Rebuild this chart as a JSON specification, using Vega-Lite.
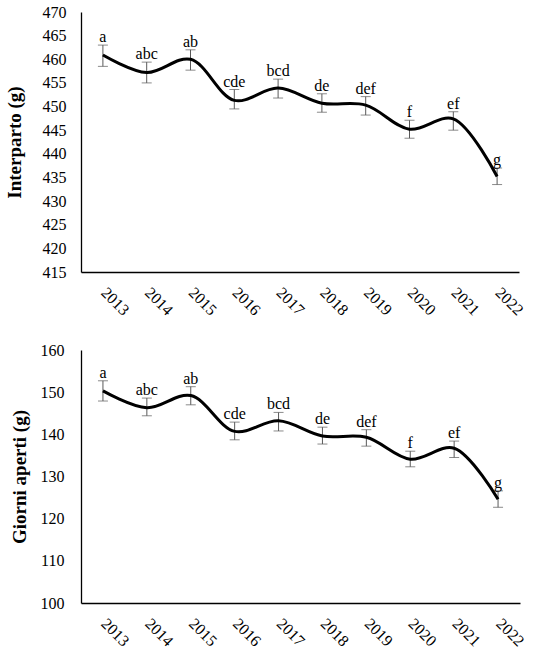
{
  "$schema": "https://vega.github.io/schema/vega-lite/v6.json",
  "background": "white",
  "padding": {"left": 5, "top": 4, "right": 5, "bottom": 0},
  "spacing": 24,
  "config": {
    "view": {"stroke": null},
    "font": "Liberation Serif",
    "axis": {
      "labelFont": "Liberation Serif",
      "titleFont": "Liberation Serif",
      "labelFontSize": 16,
      "labelColor": "black",
      "titleColor": "black",
      "domainColor": "black",
      "domainWidth": 1.3,
      "ticks": false,
      "grid": false,
      "labelOverlap": false
    }
  },
  "datasets": {
    "interparto": [
      {"anno": "2013", "media": 460.9, "lo": 458.5, "hi": 463.0, "lettera": "a"},
      {"anno": "2014", "media": 457.2, "lo": 455.0, "hi": 459.4, "lettera": "abc"},
      {"anno": "2015", "media": 460.0, "lo": 457.7, "hi": 462.0, "lettera": "ab"},
      {"anno": "2016", "media": 451.3, "lo": 449.5, "hi": 453.6, "lettera": "cde"},
      {"anno": "2017", "media": 453.9, "lo": 451.8, "hi": 455.8, "lettera": "bcd"},
      {"anno": "2018", "media": 450.7, "lo": 448.8, "hi": 452.7, "lettera": "de"},
      {"anno": "2019", "media": 450.3, "lo": 448.2, "hi": 452.1, "lettera": "def"},
      {"anno": "2020", "media": 445.2, "lo": 443.3, "hi": 447.1, "lettera": "f"},
      {"anno": "2021", "media": 447.4, "lo": 445.0, "hi": 448.9, "lettera": "ef"},
      {"anno": "2022", "media": 435.2, "lo": 433.5, "hi": 437.0, "lettera": "g"}
    ],
    "giorni": [
      {"anno": "2013", "media": 150.3, "lo": 147.9, "hi": 152.7, "lettera": "a"},
      {"anno": "2014", "media": 146.3, "lo": 144.4, "hi": 148.6, "lettera": "abc"},
      {"anno": "2015", "media": 149.2, "lo": 147.0, "hi": 151.3, "lettera": "ab"},
      {"anno": "2016", "media": 140.7, "lo": 138.7, "hi": 142.9, "lettera": "cde"},
      {"anno": "2017", "media": 143.2, "lo": 140.8, "hi": 145.2, "lettera": "bcd"},
      {"anno": "2018", "media": 139.6, "lo": 137.7, "hi": 141.7, "lettera": "de"},
      {"anno": "2019", "media": 139.3, "lo": 137.2, "hi": 141.1, "lettera": "def"},
      {"anno": "2020", "media": 134.1, "lo": 132.3, "hi": 136.0, "lettera": "f"},
      {"anno": "2021", "media": 136.7, "lo": 134.5, "hi": 138.4, "lettera": "ef"},
      {"anno": "2022", "media": 124.6, "lo": 122.7, "hi": 126.6, "lettera": "g"}
    ]
  },
  "vconcat": [
    {
      "width": 438,
      "height": 260,
      "data": {"name": "interparto"},
      "encoding": {
        "x": {
          "field": "anno",
          "type": "ordinal",
          "scale": {"type": "point", "padding": 0.5},
          "axis": {"title": null, "labelAngle": 45, "labelPadding": 12, "labelOffset": 6}
        },
        "y": {
          "field": "media",
          "type": "quantitative",
          "scale": {"domain": [415, 470], "zero": false, "nice": false},
          "axis": {
            "title": "Interparto (g)",
            "titleFontSize": 19,
            "titleFontWeight": "bold",
            "titlePadding": 18,
            "labelPadding": 15,
            "labelOverlap": false,
            "labelFlush": false,
            "values": [415, 420, 425, 430, 435, 440, 445, 450, 455, 460, 465, 470]
          }
        }
      },
      "layer": [
        {
          "mark": {"type": "rule", "color": "#595959", "strokeWidth": 1},
          "encoding": {
            "y": {"field": "lo", "type": "quantitative"},
            "y2": {"field": "hi"}
          }
        },
        {
          "mark": {"type": "tick", "color": "#595959", "thickness": 1, "size": 10, "orient": "horizontal"},
          "encoding": {"y": {"field": "lo", "type": "quantitative"}}
        },
        {
          "mark": {"type": "tick", "color": "#595959", "thickness": 1, "size": 10, "orient": "horizontal"},
          "encoding": {"y": {"field": "hi", "type": "quantitative"}}
        },
        {
          "mark": {"type": "line", "color": "black", "strokeWidth": 3, "interpolate": "catmull-rom"}
        },
        {
          "mark": {"type": "text", "fontSize": 16, "color": "black", "baseline": "alphabetic", "dy": -3},
          "encoding": {
            "y": {"field": "hi", "type": "quantitative"},
            "text": {"field": "lettera"}
          }
        }
      ]
    },
    {
      "width": 439,
      "height": 253,
      "data": {"name": "giorni"},
      "encoding": {
        "x": {
          "field": "anno",
          "type": "ordinal",
          "scale": {"type": "point", "padding": 0.5},
          "axis": {"title": null, "labelAngle": 45, "labelPadding": 12, "labelOffset": 6}
        },
        "y": {
          "field": "media",
          "type": "quantitative",
          "scale": {"domain": [100, 160], "zero": false, "nice": false},
          "axis": {
            "title": "Giorni aperti (g)",
            "titleFontSize": 19,
            "titleFontWeight": "bold",
            "titlePadding": 11,
            "labelPadding": 17,
            "labelOverlap": false,
            "labelFlush": false,
            "values": [100, 110, 120, 130, 140, 150, 160]
          }
        }
      },
      "layer": [
        {
          "mark": {"type": "rule", "color": "#595959", "strokeWidth": 1},
          "encoding": {
            "y": {"field": "lo", "type": "quantitative"},
            "y2": {"field": "hi"}
          }
        },
        {
          "mark": {"type": "tick", "color": "#595959", "thickness": 1, "size": 10, "orient": "horizontal"},
          "encoding": {"y": {"field": "lo", "type": "quantitative"}}
        },
        {
          "mark": {"type": "tick", "color": "#595959", "thickness": 1, "size": 10, "orient": "horizontal"},
          "encoding": {"y": {"field": "hi", "type": "quantitative"}}
        },
        {
          "mark": {"type": "line", "color": "black", "strokeWidth": 3, "interpolate": "catmull-rom"}
        },
        {
          "mark": {"type": "text", "fontSize": 16, "color": "black", "baseline": "alphabetic", "dy": -3},
          "encoding": {
            "y": {"field": "hi", "type": "quantitative"},
            "text": {"field": "lettera"}
          }
        }
      ]
    }
  ]
}
